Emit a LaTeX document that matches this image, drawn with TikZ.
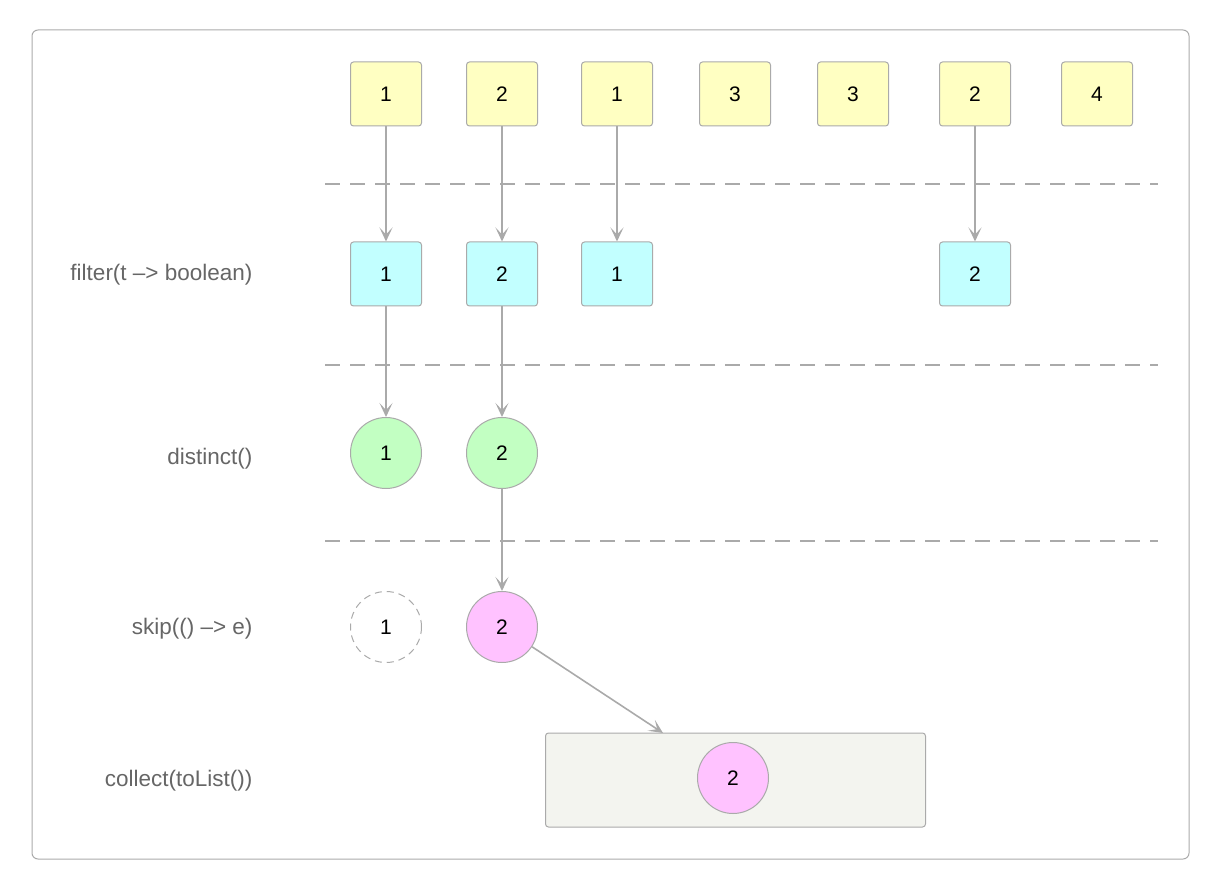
\documentclass[tikz,border=0pt]{standalone}
\usepackage{fontspec}
\setmainfont{Liberation Sans}
\usetikzlibrary{arrows.meta}
\definecolor{linegray}{HTML}{AAAAAA}
\definecolor{textgray}{HTML}{666666}
\definecolor{yelfill}{HTML}{FFFFC2}
\definecolor{cyanfill}{HTML}{C2FFFF}
\definecolor{greenfill}{HTML}{C2FFC2}
\definecolor{pinkfill}{HTML}{FFC2FF}
\definecolor{boxfill}{HTML}{F3F4EF}
\tikzset{
  valbox/.style={draw=linegray, line width=1pt, rounded corners=3pt, minimum width=71pt, minimum height=64pt, inner sep=0pt, font=\fontsize{21}{24}\selectfont},
  valcirc/.style={circle, draw=linegray, line width=1pt, minimum size=71pt, inner sep=0pt, font=\fontsize{21}{24}\selectfont},
  oplabel/.style={anchor=east, text=textgray, font=\fontsize{22.5}{26}\selectfont},
  flow/.style={draw=linegray, line width=1.6pt, -{Stealth[length=14pt,width=13pt,inset=7pt]}},
  sep/.style={draw=linegray, line width=1.6pt, dash pattern=on 15pt off 10pt}
}
\begin{document}
\begin{tikzpicture}[x=1pt,y=-1pt]
\useasboundingbox (0,0) rectangle (1220,890);
\draw[linegray, line width=1pt, rounded corners=6pt](32,30) rectangle (1189,859);
% source values
\node[valbox, fill=yelfill] at (386,94) (a1) {1};
\node[valbox, fill=yelfill] at (502,94) (a2) {2};
\node[valbox, fill=yelfill] at (617,94) (a3) {1};
\node[valbox, fill=yelfill] at (735,94) (a4) {3};
\node[valbox, fill=yelfill] at (853,94) (a5) {3};
\node[valbox, fill=yelfill] at (975,94) (a6) {2};
\node[valbox, fill=yelfill] at (1097,94) (a7) {4};
\draw[sep](325,184)--(1158,184);
% filter
\node[oplabel] at (256,275) (lf) {filter(t –> boolean)};
\node[valbox, fill=cyanfill] at (386,274) (f1) {1};
\node[valbox, fill=cyanfill] at (502,274) (f2) {2};
\node[valbox, fill=cyanfill] at (617,274) (f3) {1};
\node[valbox, fill=cyanfill] at (975,274) (f6) {2};
\draw[flow](a1)--(f1);
\draw[flow](a2)--(f2);
\draw[flow](a3)--(f3);
\draw[flow](a6)--(f6);
\draw[sep](325,365)--(1158,365);
% distinct
\node[oplabel] at (256,459) (ld) {distinct()};
\node[valcirc, fill=greenfill] at (386,453) (d1) {1};
\node[valcirc, fill=greenfill] at (502,453) (d2) {2};
\draw[flow](f1)--(d1);
\draw[flow](f2)--(d2);
\draw[sep](325,541)--(1158,541);
% skip
\node[oplabel] at (256,629) (ls) {skip(() –> e)};
\node[valcirc, draw=linegray, dash pattern=on 7pt off 5pt] at (386,627) (s1) {1};
\node[valcirc, fill=pinkfill] at (502,627) (s2) {2};
\draw[flow](d2)--(s2);
% collect
\node[oplabel] at (256,781) (lc) {collect(toList())};
\node[draw=linegray, line width=1pt, fill=boxfill, rounded corners=3pt, minimum width=380pt, minimum height=94pt] at (735.5,780) (coll) {};
\node[valcirc, fill=pinkfill] at (733,778) (c2) {2};
\coordinate (cin) at (663,733);
\draw[flow](s2)--(cin);
\end{tikzpicture}
\end{document}
